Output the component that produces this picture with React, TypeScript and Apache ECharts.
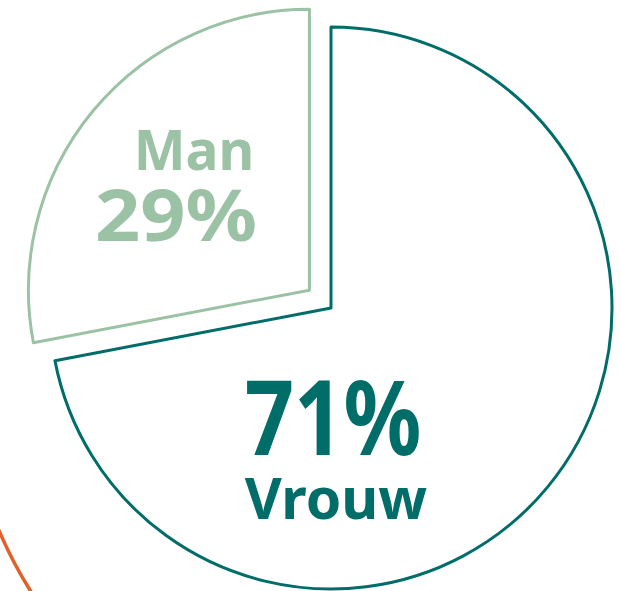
import React, { useEffect, useRef } from "react";
import * as echarts from "echarts";

const categories = ["Vrouw", "Man"];
const values = [72, 28];
const percentLabels = ["71%", "29%"];
const colors = ["#006d69", "#9cc2a5"];

export default function App() {
  const ref = useRef<HTMLDivElement>(null);
  useEffect(() => {
    if (!ref.current) return;
    const chart = echarts.init(ref.current, null, { renderer: "svg" });
    const font = "'Noto Sans', sans-serif";
    chart.setOption({
      animation: false,
      backgroundColor: "#ffffff",
      series: [
        {
          type: "pie",
          center: [331, 308],
          radius: 281,
          startAngle: 90,
          clockwise: true,
          selectedMode: "single",
          selectedOffset: 28,
          label: { show: false },
          labelLine: { show: false },
          emphasis: { disabled: true },
          data: categories.map((name, i) => ({
            name,
            value: values[i],
            selected: i === 1,
            itemStyle: { color: "#ffffff", borderColor: colors[i], borderWidth: 3 },
            select: { itemStyle: { color: "#ffffff", borderColor: colors[i], borderWidth: 3 } },
          })),
        },
      ],
      graphic: [
        {
          type: "arc",
          z: 100,
          shape: { cx: 408, cy: 355, r: 445, startAngle: 2.4, endAngle: 2.85 },
          style: { stroke: "#e0622a", lineWidth: 3.5, fill: "none" },
        },
        {
          type: "text",
          z: 100,
          x: 194,
          y: 148,
          style: { text: categories[1], fill: colors[1], font: `bold 55px ${font}`, lineHeight: 38, textAlign: "center", textVerticalAlign: "middle" },
        },
        {
          type: "text",
          z: 100,
          x: 176,
          y: 213,
          scaleX: 1.1,
          style: { text: percentLabels[1], fill: colors[1], font: `bold 72px ${font}`, lineHeight: 50, textAlign: "center", textVerticalAlign: "middle" },
        },
        {
          type: "text",
          z: 100,
          x: 333,
          y: 415,
          scaleX: 0.83,
          style: { text: percentLabels[0], fill: colors[0], font: `bold 104px ${font}`, lineHeight: 72, textAlign: "center", textVerticalAlign: "middle" },
        },
        {
          type: "text",
          z: 100,
          x: 336,
          y: 497,
          style: { text: categories[0], fill: colors[0], font: `bold 57px ${font}`, lineHeight: 40, textAlign: "center", textVerticalAlign: "middle" },
        },
      ],
    });
    return () => chart.dispose();
  }, []);
  return <div ref={ref} style={{ position: "fixed", left: 0, top: 0, width: 621, height: 591 }} />;
}
